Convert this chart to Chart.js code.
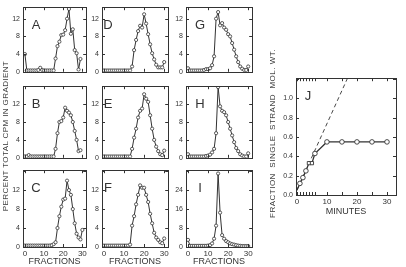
<!DOCTYPE html>
<html>
<head>
<meta charset="utf-8">
<script src="https://cdn.jsdelivr.net/npm/chart.js@4.4.1/dist/chart.umd.min.js"></script>
<style>
  body { margin: 0; background: #fff; width: 406px; height: 267px; position: relative; overflow: hidden;
         font-family: "Liberation Sans", Arial, sans-serif; color: #333; }
  canvas { position: absolute; }
  .vtitle { position: absolute; text-align: center; transform: rotate(-90deg); white-space: nowrap;
            height: 10px; line-height: 10px; will-change: transform; -webkit-font-smoothing: antialiased; }
  #ytitle { left: -79px; top: 131px; width: 170px; font-size: 8px; letter-spacing: 0.4px; }
  #jtitle { left: 193px; top: 133px; width: 160px; font-size: 8px; letter-spacing: 0.5px; }
</style>
</head>
<body>
<div id="ytitle" class="vtitle">PERCENT TOTAL CPM IN GRADIENT</div>
<div id="jtitle" class="vtitle">FRACTION&nbsp; SINGLE&nbsp; STRAND&nbsp; MOL. WT.</div>
<script>
// fraction numbers (x) for the gradient panels
const fractions = [0,1,2,3,4,5,6,7,8,9,10,11,12,13,14,15,16,17,18,19,20,21,22,23,24,25,26,27,28,29,30];

// percent of total cpm per fraction, one array per panel
const panelA = [4.0,0.3,0.3,0.3,0.3,0.3,0.3,0.4,0.9,0.4,0.3,0.3,0.3,0.3,0.3,0.3,3.0,5.8,6.8,8.3,8.4,9.4,12.0,14.2,8.6,9.6,4.9,4.2,0.5,2.9];
const panelB = [0.3,0.3,0.6,0.3,0.3,0.3,0.3,0.3,0.3,0.3,0.3,0.3,0.3,0.3,0.3,0.3,2.0,5.5,8.0,8.2,9.0,11.2,10.5,10.1,9.5,8.0,6.0,4.0,1.5,1.7];
const panelC = [0.3,0.3,0.3,0.3,0.3,0.3,0.3,0.3,0.3,0.3,0.3,0.3,0.3,0.3,0.4,0.6,1.0,4.0,6.5,8.5,10.0,10.2,14.0,12.0,11.0,8.0,5.0,2.8,2.0,1.6,3.6];
const panelD = [0.3,0.3,0.3,0.3,0.3,0.3,0.3,0.3,0.3,0.3,0.3,0.3,0.3,0.3,1.2,4.9,7.2,9.2,10.4,10.0,13.0,10.9,8.5,6.2,4.2,2.8,1.6,1.0,1.0,1.0,2.2];
const panelE = [0.3,0.3,0.3,0.3,0.3,0.3,0.3,0.3,0.3,0.3,0.3,0.3,0.3,0.3,2.0,4.5,6.5,9.0,10.5,11.0,14.2,13.2,12.5,9.5,6.5,4.0,2.5,1.5,0.8,0.6,1.6];
const panelF = [0.3,0.3,0.3,0.3,0.3,0.3,0.3,0.3,0.3,0.3,0.3,0.3,0.3,0.5,4.5,6.5,9.0,11.0,13.0,12.5,12.5,11.0,9.5,7.0,5.0,3.0,2.0,1.5,1.0,0.8,1.8];
const panelG = [0.8,0.3,0.3,0.3,0.3,0.3,0.3,0.3,0.4,0.6,0.6,0.8,1.5,3.5,12.0,13.5,10.5,11.0,10.0,9.5,8.5,8.0,6.5,5.0,3.5,2.2,1.2,0.7,0.4,0.4,1.2];
const panelH = [0.8,0.3,0.3,0.3,0.3,0.3,0.3,0.3,0.3,0.4,0.5,0.7,1.2,2.0,5.5,15.8,11.5,10.5,10.2,9.5,8.0,6.5,5.0,3.5,2.2,1.5,0.8,0.5,0.3,0.3,1.0];
const panelI = [3.0,0.5,0.5,0.5,0.5,0.5,0.5,0.5,0.5,0.5,0.6,0.8,1.5,3.5,9.0,31.0,14.5,5.0,3.5,2.5,2.0,1.5,1.2,1.0,0.8,0.6,0.5,0.4,0.4,0.4,0.4];

// panel J: fraction single strand vs time
const jMinutes = [0,1,2,3,4,5,6,10,15,20,25,30];
const jFraction = [0.05,0.12,0.18,0.25,0.33,0.33,0.43,0.55,0.55,0.55,0.55,0.55];
const jMarker = ['line','circle','circle','circle','rect','rect','circle','circle','circle','circle','circle','circle'];
const jInitialMinutes = [0,17];
const jInitialFraction = [0.05,1.22];

const INK = '#333';
const FONT = '"Liberation Sans", Arial, sans-serif';

// box, inward ticks and panel letter
const frame = {
  id: 'frame',
  afterDatasetsDraw(chart, args, o) {
    const { ctx, chartArea: a, scales: { x, y } } = chart;
    ctx.save();
    ctx.strokeStyle = INK;
    ctx.lineWidth = 1;
    ctx.strokeRect(Math.round(a.left) + 0.5, Math.round(a.top) + 0.5, Math.round(a.width), Math.round(a.height));
    ctx.beginPath();
    const xv = o.xTicks || x.ticks.map(t => t.value);
    xv.forEach(v => {
      const px = Math.round(x.getPixelForValue(v)) + 0.5;
      ctx.moveTo(px, a.bottom); ctx.lineTo(px, a.bottom - 3);
      ctx.moveTo(px, a.top); ctx.lineTo(px, a.top + 3);
    });
    y.ticks.forEach(t => {
      const py = Math.round(y.getPixelForValue(t.value)) + 0.5;
      ctx.moveTo(a.left, py); ctx.lineTo(a.left + 3, py);
      ctx.moveTo(a.right, py); ctx.lineTo(a.right - 3, py);
    });
    ctx.stroke();
    if (o.letter) {
      ctx.fillStyle = INK;
      ctx.font = '13px ' + FONT;
      ctx.textAlign = 'center';
      ctx.textBaseline = 'middle';
      ctx.fillText(o.letter, a.left + o.dx, a.top + o.dy);
    }
    ctx.restore();
  }
};

const cols = [{ l: 23, r: 87 }, { l: 102, r: 169 }, { l: 186, r: 253 }];
const rows = [{ t: 3, b: 76 }, { t: 82, b: 162 }, { t: 166, b: 247 }];

function panel(letter, values, col, row, ymax, ystep, dx) {
  const c = cols[col], r = rows[row];
  const last = row === 2;
  const cv = document.createElement('canvas');
  const w = (c.r - c.l) + 20 + 4;
  const h = (r.b - r.t) + 3 + (last ? 20 : 3);
  cv.width = w; cv.height = h;
  cv.style.left = (c.l - 20) + 'px';
  cv.style.top = (r.t - 3) + 'px';
  document.body.appendChild(cv);
  new Chart(cv.getContext('2d'), {
    type: 'line',
    data: {
      datasets: [{
        data: values.map((v, i) => ({ x: fractions[i], y: v })),
        borderColor: INK,
        borderWidth: 1,
        pointRadius: 1.6,
        pointBorderWidth: 0.8,
        pointBorderColor: INK,
        pointBackgroundColor: '#fff',
        tension: 0
      }]
    },
    options: {
      responsive: false,
      animation: false,
      devicePixelRatio: 1,
      layout: { padding: { top: 3, right: 4, bottom: last ? 0 : 3, left: 0 } },
      plugins: {
        legend: { display: false },
        tooltip: { enabled: false },
        frame: { letter: letter, dx: dx, dy: 18 }
      },
      scales: {
        x: {
          type: 'linear', min: -1, max: 32,
          grid: { display: false, drawTicks: false }, border: { display: false },
          ticks: { stepSize: 10, includeBounds: false, display: last, padding: 2,
                   color: INK, font: { size: 8, family: FONT }, maxRotation: 0 },
          title: { display: last, text: 'FRACTIONS', color: INK, padding: 0,
                   font: { size: 9, family: FONT } },
          afterFit: s => { s.height = last ? 20 : 0; }
        },
        y: {
          min: 0, max: ymax,
          grid: { display: false, drawTicks: false }, border: { display: false },
          ticks: { stepSize: ystep, includeBounds: false, padding: 3, color: INK,
                   font: { size: 7, family: FONT },
                   callback: v => v > ystep * 3.5 ? '' : v },
          afterFit: s => { s.width = 20; }
        }
      }
    },
    plugins: [frame]
  });
}

panel('A', panelA, 0, 0, 14.6, 4, 13);
panel('B', panelB, 0, 1, 16, 4, 13);
panel('C', panelC, 0, 2, 16.2, 4, 13);
panel('D', panelD, 1, 0, 14.6, 4, 6);
panel('E', panelE, 1, 1, 16, 4, 6);
panel('F', panelF, 1, 2, 16.2, 4, 6);
panel('G', panelG, 2, 0, 14.6, 4, 14);
panel('H', panelH, 2, 1, 16, 4, 14);
panel('I', panelI, 2, 2, 32.4, 8, 14);

// panel J
(function () {
  const box = { l: 296, r: 396, t: 74, b: 195 };
  const yw = 22;
  const cv = document.createElement('canvas');
  cv.width = (box.r - box.l) + yw + 6;
  cv.height = (box.b - box.t) + 3 + 22;
  cv.style.left = (box.l - yw) + 'px';
  cv.style.top = (box.t - 3) + 'px';
  document.body.appendChild(cv);
  new Chart(cv.getContext('2d'), {
    type: 'line',
    data: {
      datasets: [{
        data: jMinutes.map((m, i) => ({ x: m, y: jFraction[i] })),
        borderColor: INK,
        borderWidth: 1.3,
        pointStyle: jMarker,
        pointRadius: jMarker.map(s => s === 'line' ? 0 : 2.3),
        pointBorderWidth: 0.9,
        pointBorderColor: INK,
        pointBackgroundColor: '#fff',
        tension: 0
      }, {
        data: jInitialMinutes.map((m, i) => ({ x: m, y: jInitialFraction[i] })),
        borderColor: INK,
        borderWidth: 0.9,
        borderDash: [4, 3],
        pointRadius: 0,
        tension: 0
      }]
    },
    options: {
      responsive: false,
      animation: false,
      devicePixelRatio: 1,
      layout: { padding: { top: 3, right: 6, bottom: 0, left: 0 } },
      plugins: {
        legend: { display: false },
        tooltip: { enabled: false },
        frame: { letter: 'J', dx: 12, dy: 18, xTicks: jMinutes }
      },
      scales: {
        x: {
          type: 'linear', min: -0.3, max: 33,
          grid: { display: false, drawTicks: false }, border: { display: false },
          ticks: { stepSize: 10, includeBounds: false, padding: 2, color: INK,
                   font: { size: 8, family: FONT }, maxRotation: 0 },
          title: { display: true, text: 'MINUTES', color: INK, padding: 0,
                   font: { size: 9, family: FONT } },
          afterFit: s => { s.height = 22; }
        },
        y: {
          min: 0, max: 1.21,
          grid: { display: false, drawTicks: false }, border: { display: false },
          ticks: { stepSize: 0.2, includeBounds: false, padding: 3, color: INK,
                   font: { size: 7, family: FONT },
                   callback: v => v > 1.1 ? '' : v.toFixed(1) },
          afterFit: s => { s.width = yw; }
        }
      }
    },
    plugins: [frame]
  });
})();
</script>
</body>
</html>
